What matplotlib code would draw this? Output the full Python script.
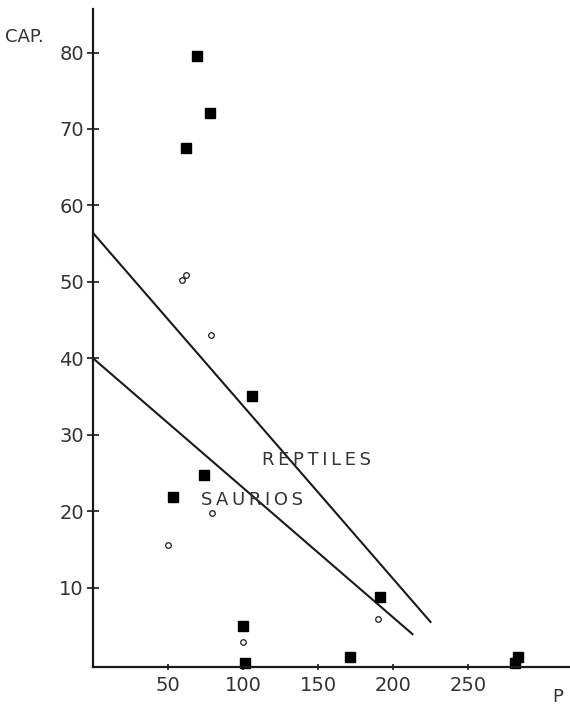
import matplotlib.pyplot as plt

# Filled squares (Reptiles)
rep_x = [69, 78, 62, 106, 74, 53, 100, 101, 191, 171, 283, 281]
rep_y = [79.5, 72.1, 67.5, 35.1, 24.7, 21.9, 5.0, 0.1, 8.8, 0.9, 0.9, 0.1]

# Open circles (Saurios)
sau_x = [59, 62, 78.5, 79, 50, 100, 190]
sau_y = [50.3, 50.9, 43.1, 19.8, 15.6, 2.9, 5.9]

# Regression lines
rep_line_x = [0, 225]
rep_line_y = [56.4, 5.5]
sau_line_x = [0, 213]
sau_line_y = [40.0, 3.9]

x_ticks = [50, 100, 150, 200, 250]
y_ticks = [10, 20, 30, 40, 50, 60, 70, 80]

ink = '#1a1a1a'
txt = '#333333'


def spaced(s):
    # letter-spaced label, like the stencil lettering of the original
    return '\u2009'.join(s)


fig = plt.figure(figsize=(5.7, 7.05), dpi=100)
ax = fig.add_axes([93 / 570, 38 / 705, 477 / 570, 658 / 705])

ax.plot(rep_line_x, rep_line_y, color=ink, lw=1.5)
ax.plot(sau_line_x, sau_line_y, color=ink, lw=1.5)

ax.plot(rep_x, rep_y, 's', color='black', ms=6.5, clip_on=False)
ax.plot(sau_x, sau_y, 'o', mfc='white', mec=ink, mew=0.9, ms=4, clip_on=False)

ax.set_xlim(0, 318)
ax.set_ylim(-0.4, 85.7)

for s in ['top', 'right']:
    ax.spines[s].set_visible(False)
ax.spines['left'].set_linewidth(1.6)
ax.spines['bottom'].set_linewidth(1.6)
ax.spines['left'].set_color(ink)
ax.spines['bottom'].set_color(ink)

ax.set_xticks(x_ticks)
ax.set_yticks(y_ticks)
ax.tick_params(axis='y', direction='inout', length=9, width=1.2, colors=ink,
               labelcolor=txt, labelsize=14, pad=2)
ax.tick_params(axis='x', direction='inout', length=5, width=1.2, colors=ink,
               labelcolor=txt, labelsize=14, pad=4)

ax.text(113, 26.7, spaced('REPTILES'), color=txt, fontsize=13, va='center')
ax.text(72, 21.5, spaced('SAURIOS'), color=txt, fontsize=13, va='center')
fig.text(5 / 570, 1 - 37 / 705, 'CAP.', color=txt, fontsize=13, va='center')
fig.text(552 / 570, 1 - 697 / 705, 'P', color=txt, fontsize=13, va='center')

fig.savefig('out.png', dpi=100, facecolor='white')
